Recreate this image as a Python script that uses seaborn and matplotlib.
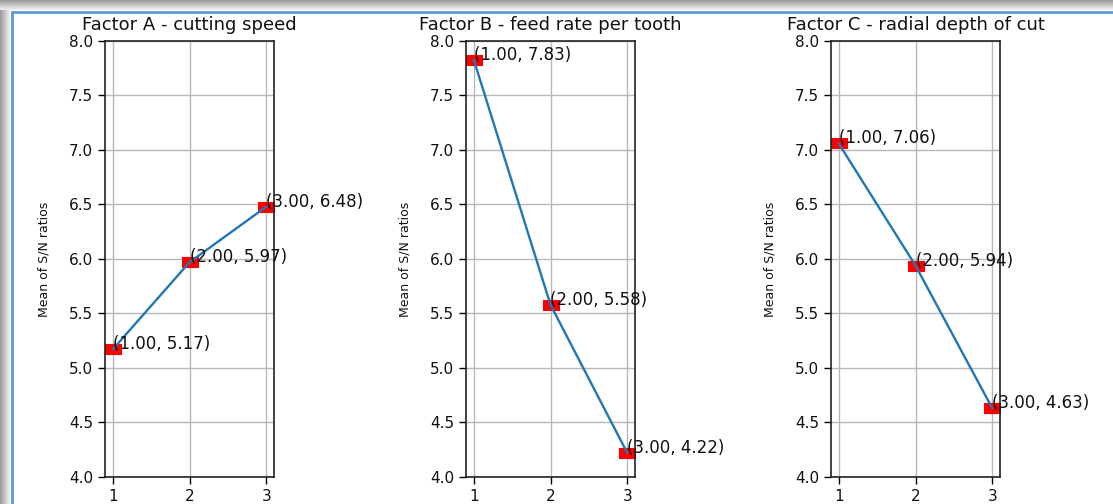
import numpy as np
import pandas as pd
import matplotlib
matplotlib.use("Agg")
import matplotlib.pyplot as plt
import seaborn as sns
from matplotlib.patches import Rectangle
from matplotlib.lines import Line2D
from matplotlib.path import Path

levels = [1, 2, 3]
titles = ["Factor A - cutting speed", "Factor B - feed rate per tooth", "Factor C - radial depth of cut"]
factor_a = [5.17, 5.97, 6.48]
factor_b = [7.83, 5.58, 4.22]
factor_c = [7.06, 5.94, 4.63]
ylabel = "Mean of S/N ratios"
yticks = [4.0, 4.5, 5.0, 5.5, 6.0, 6.5, 7.0, 7.5, 8.0]

sns.set_style("white")
plt.rcParams['font.family'] = ['DejaVu Sans']
plt.rcParams['text.color'] = 'black'

W, H = 1113, 504
fig = plt.figure(figsize=(W / 100, H / 100), dpi=100)
fig.patch.set_facecolor("white")

# window frame decoration
for i in range(10):
    g = 0.62 + 0.035 * i
    fig.add_artist(Rectangle((0, 1 - (i + 1) / H), 1, 1 / H, transform=fig.transFigure,
                             facecolor=(g, g, g), edgecolor="none", zorder=0))
    fig.add_artist(Rectangle((i / W, 0), 1 / W, 1 - 10 / H, transform=fig.transFigure,
                             facecolor=(g, g, g), edgecolor="none", zorder=0))
fig.add_artist(Line2D([12 / W, 1], [1 - 11.5 / H, 1 - 11.5 / H], transform=fig.transFigure,
                      color="#5b9bd5", lw=2))
fig.add_artist(Line2D([12 / W, 12 / W], [0, 1 - 11.5 / H], transform=fig.transFigure,
                      color="#5b9bd5", lw=2))

wide_square = Path([(-1.5, -1), (1.5, -1), (1.5, 1), (-1.5, 1), (-1.5, -1)],
                   [Path.MOVETO, Path.LINETO, Path.LINETO, Path.LINETO, Path.CLOSEPOLY])

lefts = [105, 466, 831]
aw = 169
top, bottom = 41, 477
series = [factor_a, factor_b, factor_c]

for left, title, vals in zip(lefts, titles, series):
    ax = fig.add_axes([left / W, 1 - bottom / H, aw / W, (bottom - top) / H])
    df = pd.DataFrame({"level": levels, "value": vals})
    sns.scatterplot(data=df, x="level", y="value", ax=ax, marker=wide_square, s=121,
                    color="red", edgecolor="red", linewidth=0.8, zorder=2)
    sns.lineplot(data=df, x="level", y="value", ax=ax, color="#1f77b4", lw=1.7, zorder=3)
    for x, y in zip(levels, vals):
        ax.text(x, y, f"({x:.2f}, {y:.2f})", fontsize=12, ha="left", va="baseline",
                color="#111111", zorder=4)
    ax.set_xlim(0.9, 3.1)
    ax.set_ylim(4.0, 8.0)
    ax.set_xticks(levels)
    ax.set_yticks(yticks)
    ax.set_yticklabels([f"{t:.1f}" for t in yticks])
    ax.grid(True, color="#b8b8b8", lw=1)
    ax.set_axisbelow(True)
    ax.tick_params(axis="both", labelsize=11, length=5, width=1, color="black",
                   labelcolor="#111111", left=True, bottom=True, pad=3.5)
    for sp in ax.spines.values():
        sp.set_color("#222222")
        sp.set_linewidth(1.2)
    ax.set_xlabel("")
    ax.set_ylabel(ylabel, fontsize=9, color="#111111", labelpad=13)
    ax.set_title(title, fontsize=13, pad=8, color="#111111")

fig.savefig("out.png", dpi=100)
